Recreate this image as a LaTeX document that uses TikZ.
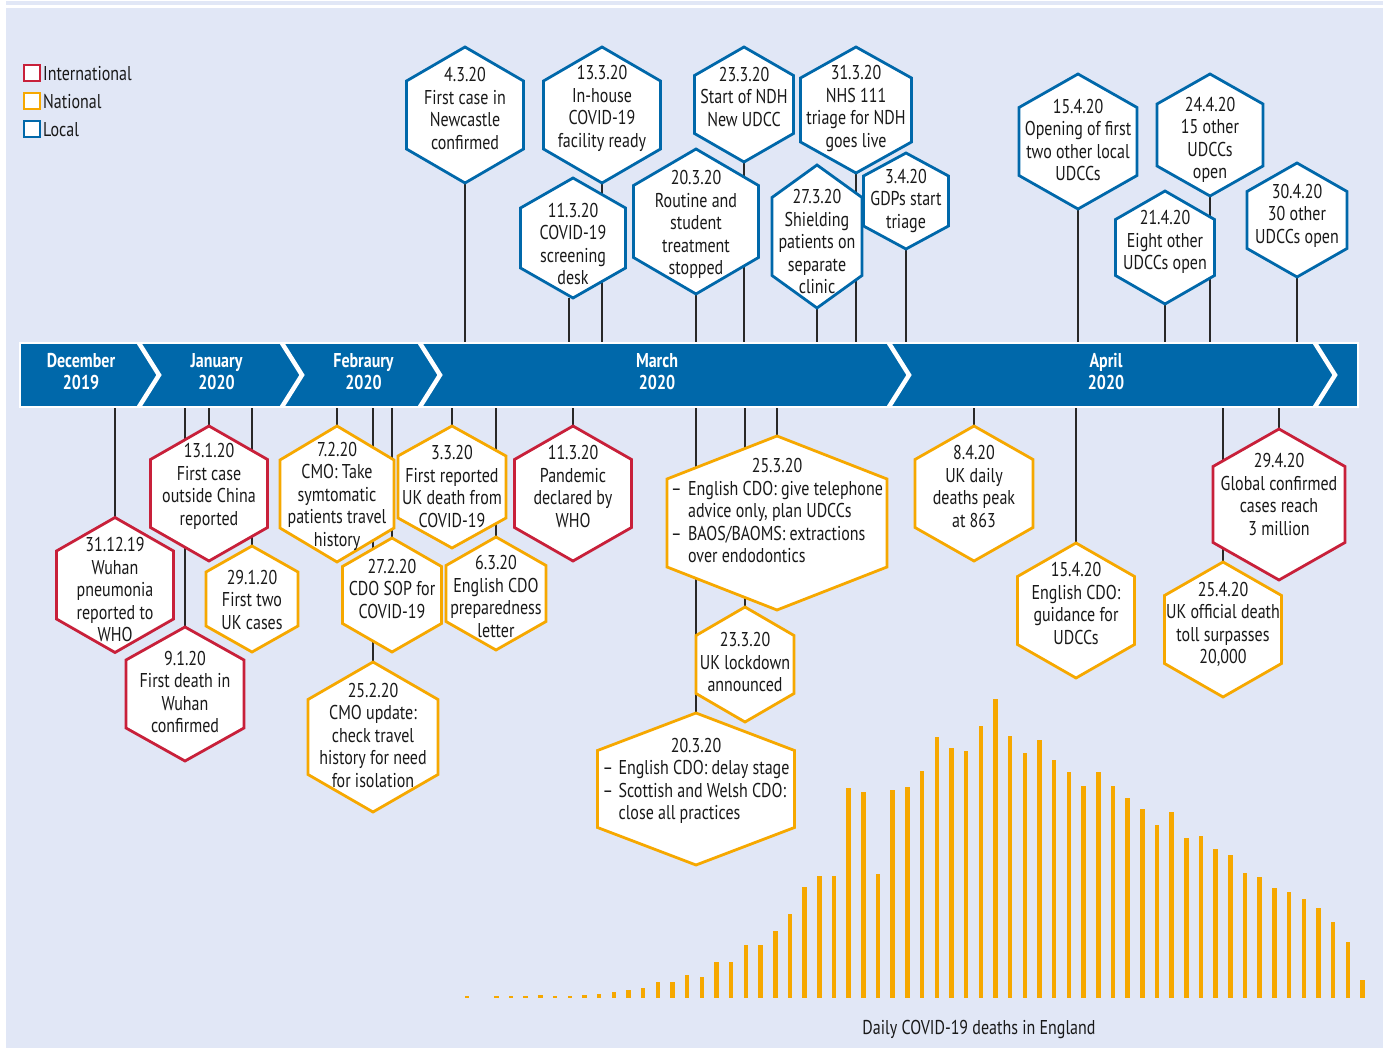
\documentclass[tikz,border=0pt]{standalone}
\usepackage{fontspec}
\setmainfont{PT Sans}[FakeStretch=0.8]
\usetikzlibrary{calc}
\pgfdeclarelayer{back}
\pgfdeclarelayer{lines}
\pgfsetlayers{back,lines,main}
\definecolor{bgc}{RGB}{225,231,246}
\definecolor{bluec}{RGB}{0,104,170}
\definecolor{redc}{RGB}{200,32,58}
\definecolor{orc}{RGB}{246,168,0}
\definecolor{txt}{RGB}{25,25,25}
\definecolor{lnc}{RGB}{40,40,40}
\tikzset{
  hexline/.style={line width=2.8pt, fill=white, line join=miter},
  hextext/.style={font=\fontsize{20}{22.5}\selectfont, text=txt, align=center, inner sep=0pt, yshift=-2pt},
  tick/.style={draw=lnc, line width=1.4pt},
  chev/.style={draw=white, line width=4.5pt, line join=miter},
  monthlbl/.style={font=\bfseries\fontsize{20}{22}\selectfont, text=white, align=center, inner sep=0pt},
  legbox/.style={line width=2.5pt, fill=white},
  legtext/.style={font=\fontsize{20}{22}\selectfont, text=txt, anchor=west, inner sep=0pt},
  barfill/.style={fill=orc},
  bandbox/.style={draw=white, line width=2pt, fill=bluec, inner sep=0pt, outer sep=0pt},
}
% name, cx, cy, a (half width), b (half height), c (half side), colour, text y, text
\newcommand\hexbox[9]{%
  \filldraw[hexline,draw=#7] (#2-#4,#3-#6) -- (#2,#3-#5) -- (#2+#4,#3-#6) -- (#2+#4,#3+#6) -- (#2,#3+#5) -- (#2-#4,#3+#6) -- cycle;
  \node[hextext] (#1) at (#2,#8) {#9};
  \coordinate (#1-n) at (#2,#3-#5);
  \coordinate (#1-s) at (#2,#3+#5);
}
\newcommand\bul{\makebox[17pt][l]{–}}
\begin{document}
\begin{tikzpicture}[x=1pt,y=-1pt]
\useasboundingbox (0,0) rectangle (1387,1048);
\begin{pgfonlayer}{back}
\fill[bgc] (6,8) rectangle (1383,1048);
\fill[bgc] (6,1) rectangle (1383,5);
\foreach \i/\h in {0/2.5, 2/2.5, 3/2.5, 4/2.5, 5/3, 6/2.5, 7/2.5, 8/3, 9/4, 10/6.3, 11/8.3, 12/10, 13/16, 14/16, 15/23, 16/21.3, 17/36, 18/36, 19/53, 20/53, 21/67, 22/84, 23/111, 24/122, 25/122, 26/210, 27/206, 28/124, 29/208, 30/211, 31/227, 32/261, 33/250, 34/247, 35/272, 36/299, 37/262, 38/245, 39/258, 40/238, 41/226, 42/212, 43/226, 44/212, 45/200, 46/189, 47/173, 48/186, 49/160, 50/162, 51/149, 52/143, 53/125, 54/121, 55/110, 56/106, 57/99, 58/90, 59/76, 60/56, 61/18}
  \fill[barfill] ({467+\i*14.68-2.25},998) rectangle ++(4.5,-\h);
\end{pgfonlayer}

% timeline band
\node[bandbox, minimum width=1338pt, minimum height=64pt] (band) at (689,375) {};
\begin{scope}
  \clip (20,344) rectangle (1358,406);
  \draw[chev] (137,340) -- (159,375) -- (137,410);
  \draw[chev] (280,340) -- (302,375) -- (280,410);
  \draw[chev] (418,340) -- (440,375) -- (418,410);
  \draw[chev] (887,340) -- (909,375) -- (887,410);
  \draw[chev] (1313,340) -- (1335,375) -- (1313,410);
\end{scope}
\node[monthlbl] (mdec) at (81,372) {December\\2019};
\node[monthlbl] (mjan) at (216.5,372) {January\\2020};
\node[monthlbl] (mfeb) at (363.5,372) {Febraury\\2020};
\node[monthlbl] (mmar) at (657,372) {March\\2020};
\node[monthlbl] (mapr) at (1106,372) {April\\2020};

% top (local) hexagons
\hexbox{t1}{465}{115}{58.5}{68}{34}{bluec}{106.5}{4.3.20\\First case in\\Newcastle\\confirmed}
\hexbox{t2}{602}{115}{58.5}{68}{34}{bluec}{106.5}{13.3.20\\In-house\\COVID-19\\facility ready}
\hexbox{t3}{744}{104.5}{49.5}{57.5}{29}{bluec}{95}{23.3.20\\Start of NDH\\New UDCC}
\hexbox{t4}{856}{110}{55.5}{63}{32}{bluec}{106.5}{31.3.20\\NHS 111\\triage for NDH\\goes live}
\hexbox{t9}{1078}{141.5}{59}{67.5}{34}{bluec}{138}{15.4.20\\Opening of first\\two other local\\UDCCs}
\hexbox{t10}{1210}{135}{53}{61}{31}{bluec}{138}{24.4.20\\15 other\\UDCCs\\open}
\hexbox{t5}{573}{238}{52.5}{60}{30}{bluec}{242}{11.3.20\\COVID-19\\screening\\desk}
\hexbox{t6}{696}{221.5}{62.5}{72.5}{36}{bluec}{222.5}{20.3.20\\Routine and\\student\\treatment\\stopped}
\hexbox{t7}{817}{236.5}{45}{71.5}{39}{bluec}{240}{27.3.20\\Shielding\\patients on\\separate\\clinic}
\hexbox{t8}{906}{201}{42.5}{48}{25}{bluec}{199}{3.4.20\\GDPs start\\triage}
\hexbox{t11}{1165}{247.5}{49.5}{56.5}{28}{bluec}{240}{21.4.20\\Eight other\\UDCCs open}
\hexbox{t12}{1297}{220}{50}{57}{28.5}{bluec}{213.5}{30.4.20\\30 other\\UDCCs open}

% bottom hexagons
\hexbox{b2}{209}{493.5}{58.5}{67.5}{34}{redc}{484.5}{13.1.20\\First case\\outside China\\reported}
\hexbox{b5}{337}{494}{57}{68}{34}{orc}{494}{7.2.20\\CMO: Take\\symtomatic\\patients travel\\history}
\hexbox{b8}{452}{487}{54}{61}{31}{orc}{484.5}{3.3.20\\First reported\\UK death from\\COVID-19}
\hexbox{b10}{573}{493.5}{58.5}{67.5}{34}{redc}{484.5}{11.3.20\\Pandemic\\declared by\\WHO}
\hexbox{b11}{777}{523}{110}{87}{44}{orc}{511}{\begin{tabular}{@{}l@{}}\multicolumn{1}{@{}c@{}}{25.3.20}\\ \bul English CDO: give telephone\\ \hspace*{17pt}advice only, plan UDCCs\\ \bul BAOS/BAOMS: extractions\\ \hspace*{17pt}over endodontics\end{tabular}}
\hexbox{b14}{974}{493.5}{59}{67.5}{34}{orc}{484.5}{8.4.20\\UK daily\\deaths peak\\at 863}
\hexbox{b17}{1279}{504.5}{66}{75.5}{38}{redc}{492.5}{29.4.20\\Global confirmed\\cases reach\\3 million}
\hexbox{b1}{115}{585}{58.5}{67.5}{34}{redc}{587.5}{31.12.19\\Wuhan\\pneumonia\\reported to\\WHO}
\hexbox{b4}{252}{599}{46}{53}{27}{orc}{597.5}{29.1.20\\First two\\UK cases}
\hexbox{b6}{392}{595}{49.5}{57}{28.5}{orc}{586.7}{27.2.20\\CDO SOP for\\COVID-19}
\hexbox{b9}{496}{593.5}{50}{56.5}{28}{orc}{594.5}{6.3.20\\English CDO\\preparedness\\letter}
\hexbox{b12}{745}{664.5}{49}{57.5}{29}{orc}{660}{23.3.20\\UK lockdown\\announced}
\hexbox{b15}{1076}{610.5}{58.5}{67.5}{34}{orc}{601.5}{15.4.20\\English CDO:\\guidance for\\UDCCs}
\hexbox{b16}{1223}{629.5}{58.5}{67.5}{34}{orc}{622.5}{25.4.20\\UK official death\\toll surpasses\\20,000}
\hexbox{b3}{185}{694}{59}{67}{34}{redc}{690}{9.1.20\\First death in\\Wuhan\\confirmed}
\hexbox{b7}{373}{737}{65}{75}{37.5}{orc}{733}{25.2.20\\CMO update:\\check travel\\history for need\\for isolation}
\hexbox{b13}{696}{789}{98.5}{76}{38.5}{orc}{779.5}{\begin{tabular}{@{}l@{}}\multicolumn{1}{@{}c@{}}{20.3.20}\\ \makebox[16pt][l]{–}English CDO: delay stage\\ \makebox[16pt][l]{–}Scottish and Welsh CDO:\\ \hspace*{16pt}close all practices\end{tabular}}

% connectors
\begin{pgfonlayer}{lines}
  \path ([xshift=-4pt]t5-s) coordinate (t5-v);
  \foreach \h in {t1-s,t2-s,t3-s,t4-s,t5-v,t6-s,t7-s,t8-s,t9-s,t10-s,t11-s,t12-s}
    \draw[tick] (\h) -- (\h |- band.north);
  \foreach \h in {b1-n,b2-n,b3-n,b4-n,b5-n,b6-n,b7-n,b8-n,b9-n,b10-n,b11-n,b12-n,b13-n,b14-n,b15-n,b16-n,b17-n}
    \draw[tick] (\h) -- (\h |- band.south);
\end{pgfonlayer}

% legend
\draw[legbox, draw=redc] (24,65) rectangle (40,81);
\draw[legbox, draw=orc] (24,93) rectangle (40,109);
\draw[legbox, draw=bluec] (24,121) rectangle (40,137);
\node[legtext] (lint) at (43,74) {International};
\node[legtext] (lnat) at (43,102) {National};
\node[legtext] (lloc) at (43,130) {Local};

% chart caption
\node[hextext] (caption) at (979,1027) {Daily COVID-19 deaths in England};
\end{tikzpicture}
\end{document}
